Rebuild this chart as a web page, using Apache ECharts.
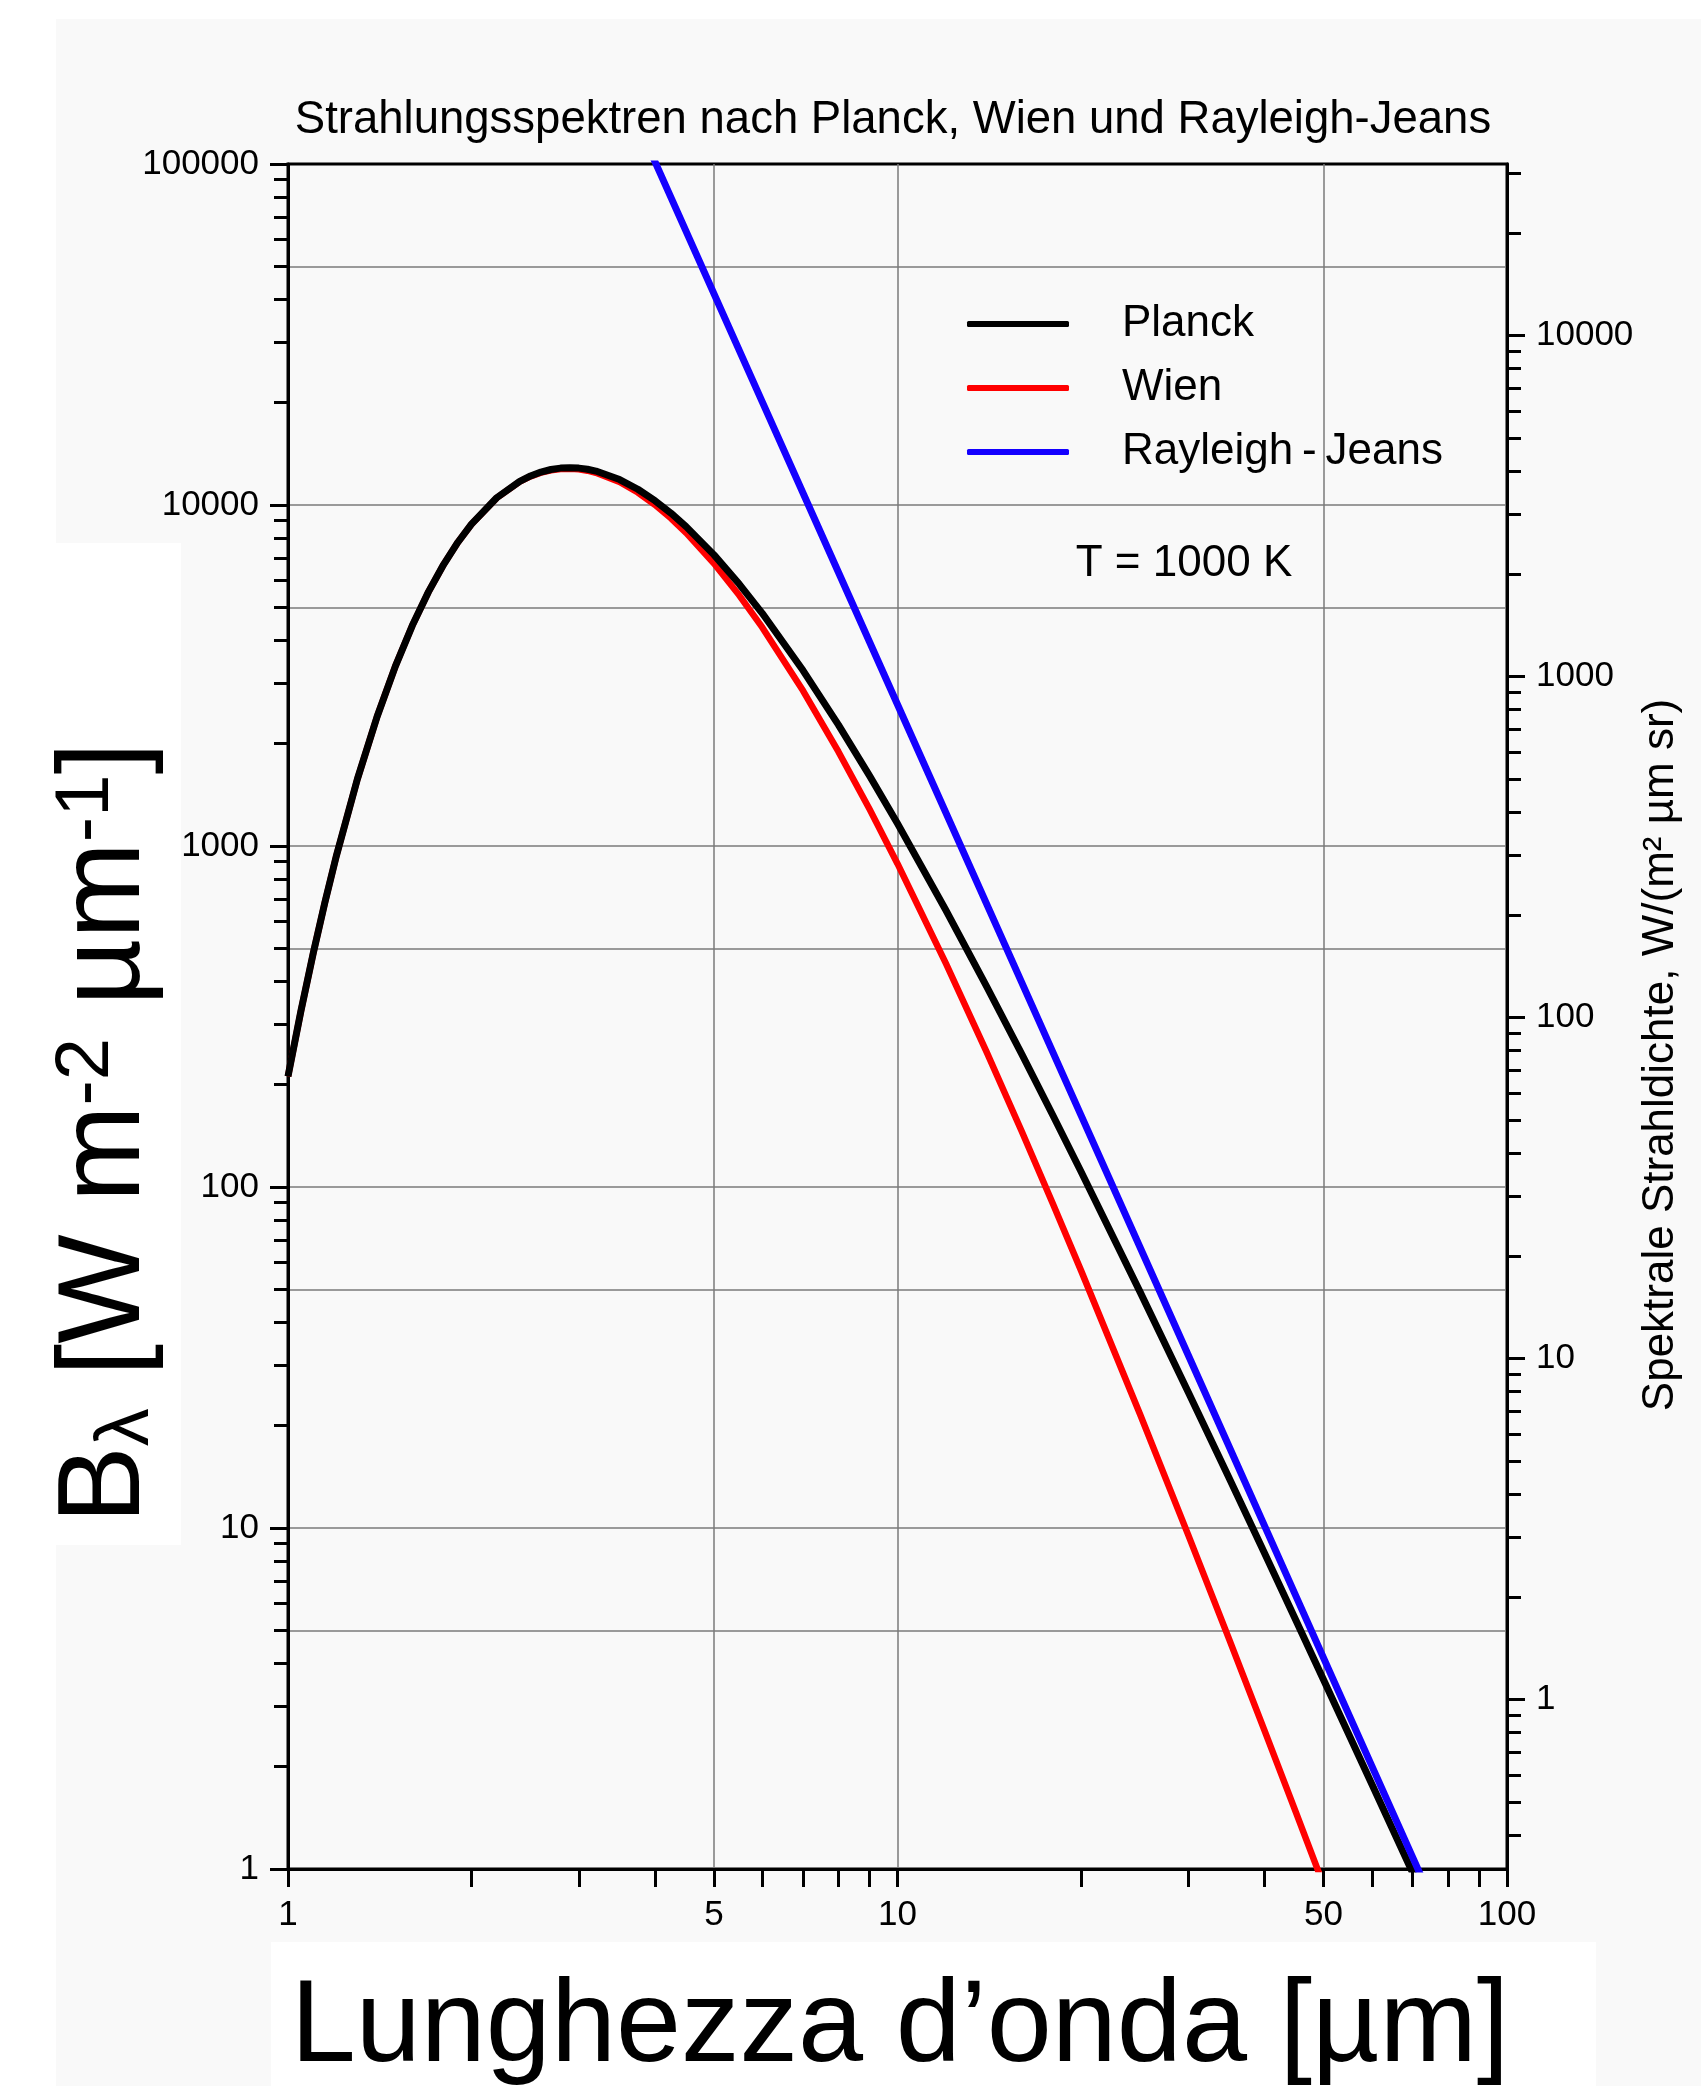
<!DOCTYPE html>
<html>
<head>
<meta charset="utf-8">
<script src="https://cdn.jsdelivr.net/npm/echarts@6/dist/echarts.min.js"></script>
<style>
html, body { margin: 0; padding: 0; background: #ffffff; }
#chart { width: 1701px; height: 2086px; }
</style>
</head>
<body>
<div id="chart"></div>
<script>
// Spectral exitance M_lambda (W m^-2 um^-1) of a 1000 K black body.
const lambdaPlanck = [1, 1.05, 1.1, 1.15, 1.2, 1.3, 1.4, 1.5, 1.6, 1.7, 1.8, 1.9, 2, 2.2, 2.4, 2.5, 2.6, 2.7, 2.8, 2.9, 3, 3.1, 3.2, 3.5, 3.75, 4, 4.25, 4.5, 5, 5.5, 6, 7, 8, 9, 10, 12, 14, 16, 18, 20, 25, 30, 35, 40, 45, 50, 60, 70, 75];
const planckValues = [211.1, 328.1, 484.8, 685.5, 933.2, 1573, 2394, 3364, 4438, 5562, 6690, 7777, 8789, 10503, 11736, 12170, 12492, 12708, 12829, 12866, 12829, 12729, 12575, 11874, 11120, 10297, 9459, 8641, 7139, 5863, 4812, 3269, 2265, 1606, 1164, 649.1, 387.7, 244.8, 161.8, 111.0, 49.25, 25.02, 14.01, 8.441, 5.382, 3.591, 1.776, 0.9756, 0.7456];

const lambdaWien = [1, 1.05, 1.1, 1.15, 1.2, 1.3, 1.4, 1.5, 1.6, 1.7, 1.8, 1.9, 2, 2.2, 2.4, 2.5, 2.6, 2.7, 2.8, 2.9, 3, 3.1, 3.2, 3.5, 3.75, 4, 4.25, 4.5, 5, 5.5, 6, 7, 8, 9, 10, 12, 14, 16, 18, 20, 25, 30, 35, 40, 45, 50, 52];
const wienValues = [211.1, 328.1, 484.8, 685.5, 933.2, 1573, 2394, 3364, 4437, 5561, 6687, 7773, 8782, 10488, 11707, 12132, 12442, 12646, 12754, 12776, 12723, 12606, 12435, 11680, 10880, 10014, 9138, 8288, 6738, 5434, 4374, 2851, 1890, 1281, 887.6, 453.4, 249.0, 145.2, 89.04, 56.95, 21.55, 9.532, 4.723, 2.550, 1.473, 0.898, 0.746];

const lambdaRJ = [3.5, 4, 5, 6, 8, 10, 15, 20, 30, 40, 50, 60, 70, 75];
const rayleighJeansValues = [173302, 101587, 41610, 20067, 6349, 2600.6, 513.7, 162.54, 32.11, 10.159, 4.161, 2.007, 1.0832, 0.8219];

// Axis ticks, labels and grid positions
const xLabelValues = [1, 5, 10, 50, 100];
const xTickValues = [1, 2, 3, 4, 5, 6, 7, 8, 9, 10, 20, 30, 40, 50, 60, 70, 80, 90, 100];
const xGridValues = [5, 10, 50];
const leftLabelValues = [1, 10, 100, 1000, 10000, 100000];
const leftGridValues = [5, 10, 50, 100, 500, 1000, 5000, 10000, 50000];
const leftDecades = [1, 10, 100, 1000, 10000];
const rightLabelValues = [1, 10, 100, 1000, 10000];
const rightDecades = [0.1, 1, 10, 100, 1000, 10000];
const minorMultipliers = [2, 3, 4, 5, 6, 7, 8, 9];

// exitance scale (left) = pi * radiance scale (right)
const leftMin = 1, leftMax = 100000;
const rightMin = leftMin / Math.PI, rightMax = leftMax / Math.PI;

function minorTicks(decades, lo, hi) {
  const out = [];
  decades.forEach(d => minorMultipliers.forEach(m => {
    const v = +(d * m).toPrecision(6);
    if (v >= lo && v <= hi) out.push(v);
  }));
  return out;
}
const leftMinorValues = minorTicks(leftDecades, leftMin, leftMax);
const rightMinorValues = minorTicks(rightDecades, rightMin, rightMax);

const pairs = (xs, ys) => xs.map((x, i) => [x, ys[i]]);

const FONT = '"Liberation Sans", Arial, Helvetica, sans-serif';
const AXIS_W = 3;
const labelFmt = v => String(+(+v).toPrecision(6));

const chart = echarts.init(document.getElementById('chart'), null, { renderer: 'canvas' });

const hiddenLog = (extra) => Object.assign({
  type: 'log', logBase: 10,
  axisLine: { show: false },
  axisLabel: { show: false },
  splitLine: { show: false }
}, extra);

const tickLabel = { fontFamily: FONT, fontSize: 35, color: '#000' };

chart.setOption({
  animation: false,
  backgroundColor: '#f9f9f9',
  title: {
    text: 'Strahlungsspektren nach Planck, Wien und Rayleigh-Jeans',
    left: 893, top: 97, textAlign: 'center', padding: 0,
    textStyle: { fontFamily: FONT, fontSize: 45.5, fontWeight: 'normal', color: '#000' }
  },
  legend: {
    orient: 'vertical',
    left: 962, top: 297,
    itemWidth: 102, itemHeight: 6, itemGap: 20,
    icon: 'roundRect',
    selectedMode: false,
    itemStyle: { borderWidth: 0 },
    textStyle: { fontFamily: FONT, fontSize: 44, color: '#000', lineHeight: 44, padding: [0, 0, 0, 48] },
    data: ['Planck', 'Wien', 'Rayleigh\u2009-\u2009Jeans']
  },
  grid: {
    left: 288, top: 164, width: 1219, height: 1705,
    show: true, borderColor: '#000', borderWidth: AXIS_W, backgroundColor: 'transparent',
    containLabel: false
  },
  xAxis: [
    {
      type: 'log', logBase: 10, min: 1, max: 100, position: 'bottom',
      axisLine: { show: true, onZero: false, lineStyle: { color: '#000', width: AXIS_W } },
      axisTick: { show: true, inside: false, length: 18, customValues: xTickValues, lineStyle: { color: '#000', width: AXIS_W } },
      axisLabel: Object.assign({ show: true, customValues: xLabelValues, margin: 29, formatter: labelFmt }, tickLabel),
      splitLine: { show: false }
    },
    hiddenLog({
      min: 1, max: 100, position: 'bottom',
      axisTick: { show: false, customValues: xGridValues },
      splitLine: { show: true, lineStyle: { color: '#7a7a7a', width: 1.5 } }
    })
  ],
  yAxis: [
    {
      type: 'log', logBase: 10, min: leftMin, max: leftMax, position: 'left',
      axisLine: { show: true, onZero: false, lineStyle: { color: '#000', width: AXIS_W } },
      axisTick: { show: true, inside: false, length: 18, customValues: leftLabelValues, lineStyle: { color: '#000', width: AXIS_W } },
      axisLabel: Object.assign({ show: true, customValues: leftLabelValues, margin: 29, formatter: labelFmt }, tickLabel),
      splitLine: { show: false }
    },
    hiddenLog({
      min: leftMin, max: leftMax, position: 'left',
      axisTick: { show: true, inside: false, length: 14, customValues: leftMinorValues, lineStyle: { color: '#000', width: AXIS_W } }
    }),
    hiddenLog({
      min: leftMin, max: leftMax, position: 'left',
      axisTick: { show: false, customValues: leftGridValues },
      splitLine: { show: true, lineStyle: { color: '#7a7a7a', width: 1.5 } }
    }),
    {
      type: 'log', logBase: 10, min: rightMin, max: rightMax, position: 'right',
      axisLine: { show: true, onZero: false, lineStyle: { color: '#000', width: AXIS_W } },
      axisTick: { show: true, inside: false, length: 18, customValues: rightLabelValues, lineStyle: { color: '#000', width: AXIS_W } },
      axisLabel: Object.assign({ show: true, customValues: rightLabelValues, margin: 29, formatter: labelFmt }, tickLabel),
      splitLine: { show: false }
    },
    hiddenLog({
      min: rightMin, max: rightMax, position: 'right',
      axisTick: { show: true, inside: false, length: 14, customValues: rightMinorValues, lineStyle: { color: '#000', width: AXIS_W } }
    })
  ],
  series: [
    {
      name: 'Planck', type: 'line', xAxisIndex: 0, yAxisIndex: 0,
      data: pairs(lambdaPlanck, planckValues),
      symbol: 'none', smooth: false, clip: true, z: 4,
      color: '#000000',
      itemStyle: { color: '#000000' },
      lineStyle: { color: '#000000', width: 7, join: 'round' }
    },
    {
      name: 'Wien', type: 'line', xAxisIndex: 0, yAxisIndex: 0,
      data: pairs(lambdaWien, wienValues),
      symbol: 'none', smooth: false, clip: true, z: 3,
      color: '#ff0000',
      itemStyle: { color: '#ff0000' },
      lineStyle: { color: '#ff0000', width: 6.5, join: 'round' }
    },
    {
      name: 'Rayleigh\u2009-\u2009Jeans', type: 'line', xAxisIndex: 0, yAxisIndex: 0,
      data: pairs(lambdaRJ, rayleighJeansValues),
      symbol: 'none', smooth: false, clip: true, z: 5,
      color: '#1400ff',
      itemStyle: { color: '#1400ff' },
      lineStyle: { color: '#1400ff', width: 7, join: 'round' }
    }
  ],
  graphic: [
    { type: 'rect', shape: { x: 0, y: 0, width: 1701, height: 19 }, style: { fill: '#ffffff' } },
    { type: 'rect', shape: { x: 0, y: 0, width: 56, height: 2086 }, style: { fill: '#ffffff' } },
    { type: 'rect', shape: { x: 56, y: 543, width: 125, height: 1002 }, style: { fill: '#ffffff' } },
    { type: 'rect', shape: { x: 271, y: 1942, width: 1325, height: 144 }, style: { fill: '#ffffff' } },
    {
      type: 'text', x: 900, y: 2029,
      style: { text: 'Lunghezza d\u2019onda [\u00b5m]', font: '117px ' + FONT, fill: '#000',
        align: 'center', verticalAlign: 'middle' }
    },
    {
      type: 'text', x: 107, y: 1133, rotation: Math.PI / 2,
      style: {
        text: '{b|B}{s|\u03bb}{b| [W m}{p|-2}{b| \u00b5m}{p|-1}{b|]}',
        align: 'center', verticalAlign: 'middle', fill: '#000',
        rich: {
          b: { fontFamily: FONT, fontSize: 116, fill: '#000' },
          s: { fontFamily: FONT, fontSize: 76, fill: '#000', verticalAlign: 'bottom' },
          p: { fontFamily: FONT, fontSize: 76, fill: '#000', verticalAlign: 'top' }
        }
      }
    },
    {
      type: 'text', x: 1661, y: 1055, rotation: Math.PI / 2,
      style: { text: 'Spektrale Strahldichte, W/(m\u00b2 \u00b5m sr)', font: '44px ' + FONT, fill: '#000',
        align: 'center', verticalAlign: 'middle' }
    },
    {
      type: 'text', x: 1184, y: 564,
      style: { text: 'T = 1000 K', font: '44px ' + FONT, fill: '#000',
        align: 'center', verticalAlign: 'middle' }
    }
  ]
});
</script>
</body>
</html>
